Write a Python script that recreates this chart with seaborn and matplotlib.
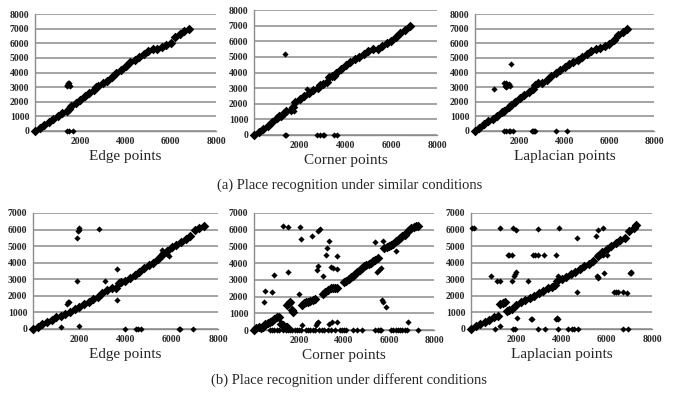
import matplotlib
matplotlib.use("Agg")
import matplotlib.pyplot as plt
import seaborn as sns
import pandas as pd

# ---------------- data ----------------
# (a) similar conditions -- Edge points
edge_sim_diag_x = [0,200,400,600,800,1000,1200,1400,1500,1600,1800,2000,2200,2400,2600,2700,2800,3000,3200,3400,3600,3800,4000,4200,4400,4600,4800,5000,5200,5400,5600,5800,6000,6200,6400,6600,6800]
edge_sim_diag_y = [0,200,400,600,800,1000,1200,1400,1500,1700,1900,2150,2400,2600,2800,3000,3100,3250,3400,3700,3950,4200,4450,4700,4850,5050,5250,5450,5600,5600,5750,5900,6050,6400,6650,6850,7000]
edge_sim_out_x = [1400,1450,1500,1550,1420,1520,1400,1500,1700]
edge_sim_out_y = [3150,3250,3150,3100,3050,3250,0,0,0]

# (a) similar conditions -- Corner points
corner_sim_diag_x = [0,200,400,600,800,1000,1100,1200,1300,1400,1600,1700,1800,2000,2200,2400,2600,2800,2900,3000,3200,3300,3400,3500,3600,3800,4000,4200,4400,4600,4800,5000,5200,5400,5600,5800,6000,6200,6400,6600,6800]
corner_sim_diag_y = [0,200,400,600,850,1100,1200,1200,1400,1550,1600,1800,2100,2300,2500,2700,2850,3000,3200,3250,3400,3700,3800,3800,4000,4250,4500,4650,4850,5000,5200,5350,5500,5500,5700,5900,6000,6300,6500,6700,7000]
corner_sim_out_x = [1350,2300,1750,1350,1400,2750,2900,3000,3050,3500,3650]
corner_sim_out_y = [5200,2950,1550,0,0,0,0,0,0,0,0]

# (a) similar conditions -- Laplacian points
lap_sim_diag_x = [0,200,400,600,800,1000,1200,1300,1500,1600,1800,2000,2200,2400,2600,2700,2800,3000,3200,3400,3600,3800,4000,4200,4400,4600,4800,5000,5200,5400,5600,5800,6000,6200,6400,6600,6800]
lap_sim_diag_y = [0,200,450,650,850,1050,1300,1400,1650,1800,2000,2250,2450,2650,2850,3150,3250,3300,3500,3750,3950,4150,4350,4550,4700,4850,5050,5250,5450,5600,5650,5800,5950,6250,6550,6750,7000]
lap_sim_out_x = [850,1600,1300,1350,1400,1450,1500,1550,1400,1300,1400,1500,1550,1700,2550,2600,2650,2700,3600,4100]
lap_sim_out_y = [2850,4600,3300,3100,3250,3050,3200,3100,3000,0,0,0,0,0,0,0,0,0,0,0]

# (b) different conditions -- Edge points
edge_dif_diag_x = [0,200,400,600,800,1000,1200,1400,1600,1800,2000,2200,2400,2600,2800,3000,3200,3400,3600,3700,3800,4000,4200,4400,4600,4800,5000,5200,5400,5600,5800,6000,6200,6400,6600,6800,7000,7200,7400]
edge_dif_diag_y = [0,150,300,400,550,700,800,900,1050,1200,1350,1500,1650,1800,1950,2150,2350,2500,2500,2800,2850,2900,3100,3250,3450,3700,3850,4000,4200,4450,4700,4950,5050,5250,5450,5600,6000,6100,6200]
edge_dif_out_x = [1200,1450,1500,1550,1900,1900,1950,2000,2000,2000,2850,3100,3650,3650,5600,5700,5800,5900,5600,4000,4450,4550,4650,6300,6350,6900]
edge_dif_out_y = [150,1500,1600,1600,2900,5500,5900,6000,6100,200,6050,2900,3600,1750,4750,4650,4500,4400,4600,0,0,0,0,0,0,0]

# (b) different conditions -- Corner points
corner_dif_diag_x = [0,100,200,300,400,500,600,700,800,900,1000,1100,1200,1300,1400,1450,1450,1550,1600,1700,1750,
                     2150,2200,2300,2400,2500,2600,2700,3050,3150,3300,3400,3500,3600,3700,
                     4000,4100,4200,4300,4400,4500,4600,4700,4800,4900,5000,5100,5200,5300,5400,5500,
                     5800,5900,6000,6100,6200,6300,6400,6500,6600,6700,6800,6900,7000,7100,7200,7300]
corner_dif_diag_y = [0,100,150,100,150,350,400,450,550,650,750,750,350,300,200,150,1500,1600,1650,1200,1100,
                     1500,1600,1650,1700,1750,1800,1850,2150,2250,2400,2500,2500,2500,2500,
                     2900,2950,3050,3200,3250,3350,3500,3600,3700,3800,3900,3950,4000,4100,4200,4300,
                     4900,4950,5000,5100,5150,5300,5400,5500,5600,5700,5850,6000,6100,6150,6200,6200]
corner_dif_out_x = [1270,1520,2040,2100,2560,2860,2930,3330,3230,3200,3700,3420,3500,3670,2860,2790,3050,890,1530,500,810,440,2010,
                    5370,5740,6300,5450,5550,5650,5670,5720,5860,6850,2750,2800,2850,3330,3450,3700,2120,
                    700,800,900,1000,1100,1300,1400,1500,1600,1700,1800,1900,2000,2100,2300,2400,2500,2600,2700,2900,3000,3100,
                    3300,3400,3600,3800,3900,4000,4100,4400,4600,4800,5400,5500,5600,5650,6100,6200,6300,6400,6500,6600,6700,6800,7300]
corner_dif_out_y = [6200,6150,6150,5450,5650,5950,6050,5350,4900,4500,4400,3750,3700,3650,3850,3600,3250,3300,3500,2350,2250,1700,2150,
                    5250,5350,4700,3500,3600,3700,1800,1700,1350,450,300,400,450,350,450,500,300,
                    0,0,0,0,0,0,0,0,0,0,0,0,0,0,0,0,0,0,0,0,0,0,
                    0,0,0,0,0,0,0,0,0,0,0,0,0,0,0,0,0,0,0,0,0,0,0]

# (b) different conditions -- Laplacian points
lap_dif_diag_x = [0,200,400,600,800,1000,1200,1300,1400,1500,1600,1700,1800,2000,2200,2400,2600,2800,3000,3200,3400,3600,3700,3800,4000,4200,4400,4600,4800,5000,5200,5400,5600,5800,6000,6200,6400,6600,6800,7000,7200,7300]
lap_dif_diag_y = [0,200,300,400,550,700,800,1500,1550,1600,1100,1150,1200,1450,1600,1750,1850,2000,2150,2300,2450,2550,2650,2900,3000,3150,3300,3450,3650,3800,3950,4100,4400,4650,4850,5000,5200,5350,5500,5900,6100,6250]
lap_dif_out_x = [40,120,1300,1860,2000,2960,3870,4700,5530,5630,5850,
                 1650,1700,1800,2760,2850,2950,3240,3750,5560,5650,5750,5850,6000,
                 870,1140,1280,1800,1900,1950,2000,2500,3860,5600,5580,5620,5900,7050,7020,7080,4700,6300,6400,6500,6700,6900,
                 2020,2650,2700,3750,3850,3800,1280,
                 1060,1870,1950,2960,3250,3860,4270,4460,4550,4730,6720,6940]
lap_dif_out_y = [6100,6100,6100,6100,5950,6050,6100,5500,5600,5950,6100,
                 4450,4450,4450,4450,4450,4450,4450,4450,4450,4450,4450,4450,4450,
                 3200,2900,2900,2900,3200,3300,3450,2900,3200,3100,3200,3150,3400,3450,3400,3400,2250,2250,2250,2250,2250,2200,
                 650,600,600,600,600,650,200,
                 0,0,0,0,0,0,0,0,0,0,0,0]

labels = ["Edge points", "Corner points", "Laplacian points"]
xticks = [2000, 4000, 6000, 8000]
yticks_a = [0, 1000, 2000, 3000, 4000, 5000, 6000, 7000, 8000]
yticks_b = [0, 1000, 2000, 3000, 4000, 5000, 6000, 7000]
caption_a = "(a) Place recognition under similar conditions"
caption_b = "(b) Place recognition under different conditions"

# ---------------- drawing ----------------
sns.set_style("white")
plt.rcParams["font.family"] = ["Liberation Serif", "DejaVu Serif"]

W, H = 680, 397
fig = plt.figure(figsize=(W / 100, H / 100), dpi=100)

def ax_at(left, right, top, bottom):
    return fig.add_axes([left / W, (H - bottom) / H, (right - left) / W, (bottom - top) / H])

panels = [
    (ax_at(35, 216, 14, 131), edge_sim_diag_x, edge_sim_diag_y, edge_sim_out_x, edge_sim_out_y, labels[0], yticks_a),
    (ax_at(254, 437, 10, 135), corner_sim_diag_x, corner_sim_diag_y, corner_sim_out_x, corner_sim_out_y, labels[1], yticks_a),
    (ax_at(475, 654, 14, 131), lap_sim_diag_x, lap_sim_diag_y, lap_sim_out_x, lap_sim_out_y, labels[2], yticks_a),
    (ax_at(33, 218, 213, 329), edge_dif_diag_x, edge_dif_diag_y, edge_dif_out_x, edge_dif_out_y, labels[0], yticks_b),
    (ax_at(254, 434, 213, 330), corner_dif_diag_x, corner_dif_diag_y, corner_dif_out_x, corner_dif_out_y, labels[1], yticks_b),
    (ax_at(471, 652, 213, 329), lap_dif_diag_x, lap_dif_diag_y, lap_dif_out_x, lap_dif_out_y, labels[2], yticks_b),
]

grid_col = "#8c8c8c"
for ax, dx, dy, ox, oy, lab, yt in panels:
    ax.set_xlim(0, 8000)
    ax.set_ylim(0, yt[-1])
    ax.set_yticks(yt)
    ax.set_xticks(xticks)
    ax.yaxis.grid(True, color=grid_col, linewidth=1.1)
    ax.xaxis.grid(False)
    ax.set_axisbelow(True)
    for s in ["top", "right"]:
        ax.spines[s].set_visible(False)
    for s in ["left", "bottom"]:
        ax.spines[s].set_color(grid_col)
        ax.spines[s].set_linewidth(1.0)
    df_d = pd.DataFrame({"x": dx, "y": dy})
    df_o = pd.DataFrame({"x": ox, "y": oy})
    sns.scatterplot(data=df_d, x="x", y="y", ax=ax, marker="D", color="black",
                    s=24, linewidth=0, clip_on=False, zorder=3)
    sns.scatterplot(data=df_o, x="x", y="y", ax=ax, marker="D", color="black",
                    s=10, linewidth=0, clip_on=False, zorder=3)
    ax.tick_params(axis="both", which="both", labelsize=7, length=2.5,
                   color=grid_col, pad=2)
    ax.tick_params(axis="y", length=0, pad=4)
    for t in ax.get_xticklabels() + ax.get_yticklabels():
        t.set_fontweight("bold")
    ax.set_xlabel(lab, fontsize=11, labelpad=3)
    ax.set_ylabel("")

fig.text(350 / W, 1 - 185 / H, caption_a, ha="center", va="center", fontsize=10.5)
fig.text(349 / W, 1 - 380 / H, caption_b, ha="center", va="center", fontsize=10.5)

fig.savefig("out.png", dpi=100)
